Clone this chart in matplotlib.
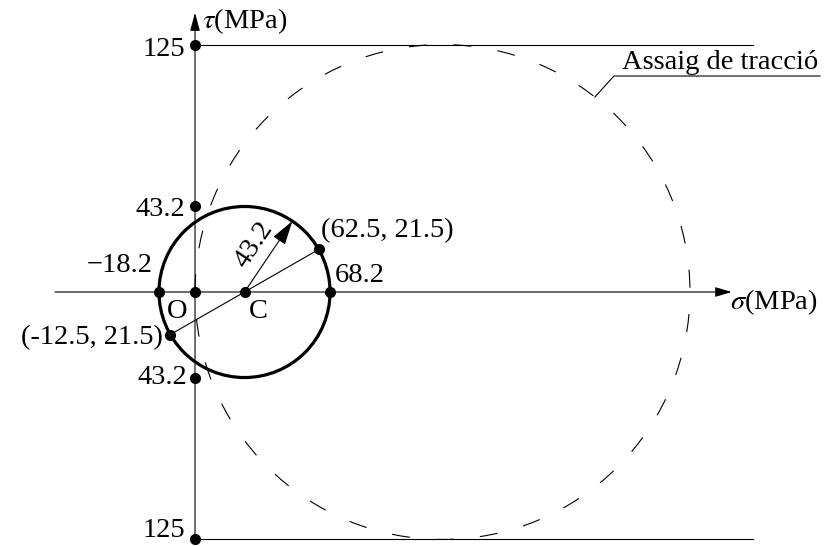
import numpy as np
import matplotlib
matplotlib.use("Agg")
import matplotlib.pyplot as plt
from matplotlib.patches import Circle

plt.rcParams['font.family'] = ['Liberation Serif', 'DejaVu Serif']
plt.rcParams['mathtext.fontset'] = 'stix'
plt.rcParams['lines.scale_dashes'] = False

# Mohr circle data (MPa)
sigma_min = -18.2
sigma_max = 68.2
center = 25.0
radius = 43.2
point_a = (62.5, 21.5)
point_b = (-12.5, -21.5)
# tension test circle
tension_max = 250.0
tau_tension = 125.0

# axis extents
sigma_axis = (-70.7, 271.0)
tau_axis = (-125.0, 141.0)
line_end = 282.0

fig = plt.figure(figsize=(8.26, 5.46), dpi=100)
ax = fig.add_axes([0, 0, 1, 1])
ax.set_xlim(-98.5, 318.7)
ax.set_ylim(-128.3, 147.5)
ax.axis('off')

fs = 20.5
lw_thin = 0.8

# axes with arrows
ax.annotate('', xy=(sigma_axis[1], 0), xytext=(sigma_axis[0], 0),
            arrowprops=dict(arrowstyle='-|>,head_length=0.5,head_width=0.15',
                            mutation_scale=20, lw=lw_thin, color='k',
                            shrinkA=0, shrinkB=0))
ax.annotate('', xy=(0, tau_axis[1]), xytext=(0, tau_axis[0]),
            arrowprops=dict(arrowstyle='-|>,head_length=0.55,head_width=0.15',
                            mutation_scale=20, lw=lw_thin, color='k',
                            shrinkA=0, shrinkB=0))

# horizontal lines at +/- tau max of tension test
ax.plot([0, line_end], [tau_tension, tau_tension], color='k', lw=lw_thin)
ax.plot([0, line_end], [-tau_tension, -tau_tension], color='k', lw=lw_thin)

# tension test circle (dashed)
tc = Circle((tension_max / 2, 0), tension_max / 2, fill=False, color='k',
            lw=lw_thin, linestyle=(5, (13, 19)))
ax.add_patch(tc)

# Mohr circle
mc = Circle((center, 0), radius, fill=False, color='k', lw=2.3)
ax.add_patch(mc)

# diameter line through the two stress points
ax.plot([point_b[0], point_a[0]], [point_b[1], point_a[1]], color='k', lw=lw_thin)

# radius arrow
ang = np.radians(56)
tip = (center + radius * np.cos(ang), radius * np.sin(ang))
ax.annotate('', xy=tip, xytext=(center, 0),
            arrowprops=dict(arrowstyle='-|>,head_length=0.75,head_width=0.22',
                            mutation_scale=20, lw=lw_thin, color='k',
                            shrinkA=0, shrinkB=0))
mid = (center + 0.52 * radius * np.cos(ang), 0.52 * radius * np.sin(ang))
ax.annotate('43.2', xy=mid, xytext=(-18 * np.sin(ang), 18 * np.cos(ang)),
            textcoords='offset pixels', rotation=56, rotation_mode='anchor',
            ha='center', va='center', fontsize=fs)

# dots
dots_x = [0, 0, 0, 0, sigma_min, 0, center, sigma_max, point_a[0], point_b[0]]
dots_y = [tau_tension, -tau_tension, radius, -radius, 0, 0, 0, 0, point_a[1], point_b[1]]
ax.plot(dots_x, dots_y, 'o', color='k', ms=7, zorder=5)

def lab(txt, xy, dx, dy, ha):
    ax.annotate(txt, xy=xy, xytext=(dx, dy), textcoords='offset pixels',
                ha=ha, va='baseline', fontsize=fs)

lab('125', (0, tau_tension), -10, -11, 'right')
lab('125', (0, -tau_tension), -10, 2, 'right')
lab('43.2', (0, radius), -10, -10, 'right')
lab('43.2', (0, -radius), -8, -6, 'right')
lab('\u221218.2', (sigma_min, 0), -6, 20, 'right')
lab('O', (0, 0), -18, -26, 'center')
lab('C', (center, 0), 14, -26, 'center')
lab('68.2', (sigma_max, 0), 5, 10, 'left')
lab('(62.5, 21.5)', point_a, 2, 12, 'left')
lab('(-12.5, 21.5)', point_b, -7, -10, 'right')
lab(r'$\tau$(MPa)', (0, tau_tension), 7, 16, 'left')
lab(r'$\sigma$(MPa)', (sigma_axis[1], 0), -2, -17, 'left')

# label for tension test circle with leader line
la = np.radians(52)
p0 = (tension_max / 2 + tension_max / 2 * np.cos(la), tension_max / 2 * np.sin(la))
p1 = (211.6, 109.1)
p2 = (315.7, 109.1)
ax.plot([p0[0], p1[0], p2[0]], [p0[1], p1[1], p2[1]], color='k', lw=lw_thin)
lab('Assaig de tracció', p1, 8, 7, 'left')

fig.savefig('out.png', dpi=100)
